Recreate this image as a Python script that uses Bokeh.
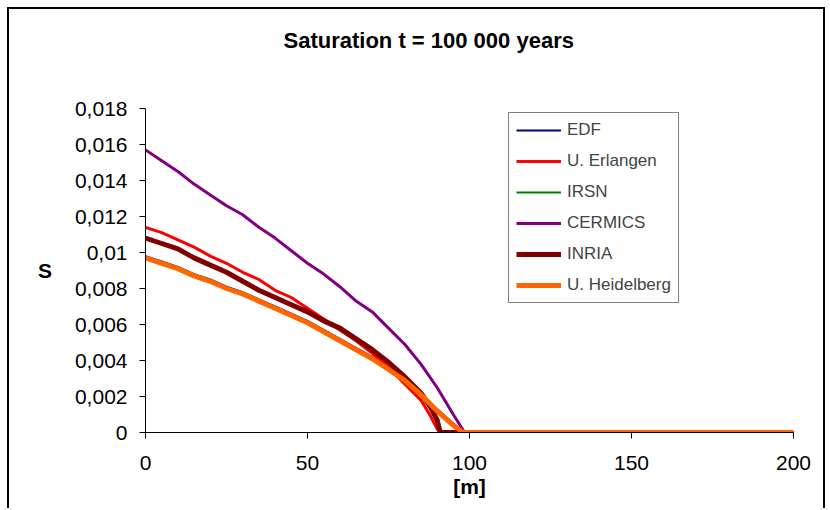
from bokeh.plotting import figure
from bokeh.models import (Range1d, FixedTicker, CustomJSTickFormatter, Legend, LegendItem, Title,
                          LinearAxis)
from bokeh.embed import file_html
from bokeh.resources import INLINE

title_text = "Saturation t = 100 000 years"
x_label = "[m]"
y_label = "S"
series_names = ["EDF", "U. Erlangen", "IRSN", "CERMICS", "INRIA", "U. Heidelberg"]

edf_x = [0, 5, 10, 15, 20, 25, 30, 35, 40, 45, 50, 55, 60, 65, 70, 75, 80, 85, 90, 95, 98, 200]
edf_y = [0.0098, 0.0095, 0.0092, 0.0088, 0.0085, 0.0081, 0.0078, 0.0074, 0.0070, 0.0066, 0.0062, 0.0057, 0.0052, 0.0047, 0.0042, 0.0036, 0.0030, 0.0022, 0.0013, 0.0005, 0.0, 0.0]

erl_x = [0, 5, 10, 15, 20, 25, 30, 35, 40, 45, 50, 55, 60, 65, 70, 75, 80, 85, 88, 90, 91, 200]
erl_y = [0.0114, 0.0111, 0.0107, 0.0103, 0.0098, 0.0094, 0.0089, 0.0085, 0.0079, 0.0075, 0.0069, 0.0063, 0.0057, 0.0051, 0.0044, 0.0036, 0.0027, 0.0018, 0.0009, 0.0002, 0.0, 0.0]

irsn_x = [0, 5, 10, 15, 20, 25, 30, 35, 40, 45, 50, 55, 60, 65, 70, 75, 80, 85, 90, 95, 98, 200]
irsn_y = [0.0097, 0.0094, 0.0091, 0.0087, 0.0084, 0.0080, 0.0077, 0.0073, 0.0069, 0.0065, 0.0061, 0.0056, 0.0051, 0.0046, 0.0041, 0.0035, 0.0029, 0.0021, 0.0012, 0.0004, 0.0, 0.0]

cer_x = [0, 5, 10, 15, 20, 25, 30, 35, 40, 45, 50, 55, 60, 65, 70, 75, 80, 85, 90, 95, 98.5, 200]
cer_y = [0.0157, 0.0151, 0.0145, 0.0138, 0.0132, 0.0126, 0.0121, 0.0114, 0.0108, 0.0101, 0.0094, 0.0088, 0.0081, 0.0073, 0.0067, 0.0058, 0.0049, 0.0038, 0.0025, 0.0010, 0.0, 0.0]

inr_x = [0, 5, 10, 15, 20, 25, 30, 35, 40, 45, 50, 55, 60, 65, 70, 75, 80, 85, 88, 90, 91, 96, 200]
inr_y = [0.0108, 0.0105, 0.0102, 0.0097, 0.0093, 0.0089, 0.0084, 0.0079, 0.0075, 0.0071, 0.0067, 0.0062, 0.0058, 0.0052, 0.0046, 0.0039, 0.0031, 0.0022, 0.0014, 0.0007, 0.0, 0.0, 0.0]

hei_x = [0, 5, 10, 15, 20, 25, 30, 35, 40, 45, 50, 55, 60, 65, 70, 75, 80, 85, 90, 95, 98, 200]
hei_y = [0.0097, 0.0094, 0.0091, 0.0087, 0.0084, 0.0080, 0.0077, 0.0073, 0.0069, 0.0065, 0.0061, 0.0056, 0.0051, 0.0046, 0.0041, 0.0035, 0.0029, 0.0021, 0.0012, 0.0004, 0.0, 0.0]

x_ticks = [0, 50, 100, 150, 200]
y_ticks = [0, 0.002, 0.004, 0.006, 0.008, 0.01, 0.012, 0.014, 0.016, 0.018]

FONT = "Liberation Sans"

p = figure(width=818, height=501, output_backend="svg", toolbar_location=None,
           x_range=Range1d(0, 200), y_range=Range1d(0, 0.018),
           min_border_left=136, min_border_right=34, min_border_top=99, min_border_bottom=78,
           margin=(7, 0, 0, 7))
p.styles = {"border-top": "2px solid #000000", "border-left": "2px solid #000000",
            "border-right": "2px solid #000000"}
p.outline_line_color = None
p.background_fill_color = "white"
p.border_fill_color = "white"
p.xgrid.visible = False
p.ygrid.visible = False

xa = p.below[0]
ya = p.left[0]

for ax in (xa, ya):
    ax.axis_line_color = "black"
    ax.axis_line_width = 1
    ax.major_tick_line_color = "black"
    ax.minor_tick_line_color = None
    ax.major_tick_in = 0
    ax.major_tick_out = 6
    ax.major_label_text_font = FONT
    ax.major_label_text_font_size = "21px"
    ax.major_label_text_color = "black"
    ax.axis_label_text_font = FONT
    ax.axis_label_text_font_size = "21px"
    ax.axis_label_text_font_style = "bold"
    ax.axis_label_text_color = "black"

xa.ticker = FixedTicker(ticks=x_ticks)
ya.ticker = FixedTicker(ticks=y_ticks)
ya.formatter = CustomJSTickFormatter(code="""
    if (tick == 0) return '0';
    return (Math.round(tick*1000)/1000).toString().replace('.', ',');
""")
xa.axis_label = x_label
ya.axis_label = y_label
xa.major_label_standoff = 17
ya.major_label_standoff = 12
xa.axis_label_standoff = 2
ya.axis_label_standoff = 20
ya.axis_label_orientation = "horizontal"

# invisible spacer axis (nearest the frame) pushes the title up
spacer = LinearAxis(ticker=FixedTicker(ticks=[100], minor_ticks=[]), major_tick_out=51,
                    major_tick_in=0, minor_tick_out=0, axis_line_color=None,
                    major_tick_line_color=None, minor_tick_line_color=None,
                    major_label_standoff=0, axis_label=None,
                    formatter=CustomJSTickFormatter(code="return '';"))
p.add_layout(spacer, "above")
p.add_layout(Title(text=title_text, align="left", offset=138, standoff=10,
                   text_font=FONT, text_font_size="22px", text_font_style="bold",
                   text_color="black"), "above")

r_edf = p.line(edf_x, edf_y, line_color="#000080", line_width=2)
r_erl = p.line(erl_x, erl_y, line_color="#ff0000", line_width=3)
r_irsn = p.line(irsn_x, irsn_y, line_color="#008000", line_width=2)
r_cer = p.line(cer_x, cer_y, line_color="#800080", line_width=3)
r_inr = p.line(inr_x, inr_y, line_color="#800000", line_width=5)
r_hei = p.line(hei_x, hei_y, line_color="#ff6600", line_width=5)

renderers = [r_edf, r_erl, r_irsn, r_cer, r_inr, r_hei]
legend = Legend(items=[LegendItem(label=n, renderers=[r]) for n, r in zip(series_names, renderers)],
                location=(363, 129), label_text_font=FONT, label_text_font_size="17px",
                border_line_color="black", border_line_width=1.5, padding=7, spacing=11,
                glyph_width=45, glyph_height=20, label_height=20, label_standoff=6, margin=0,
                background_fill_alpha=1)
p.add_layout(legend, "center")

open("out.html", "w").write(file_html(p, INLINE))
